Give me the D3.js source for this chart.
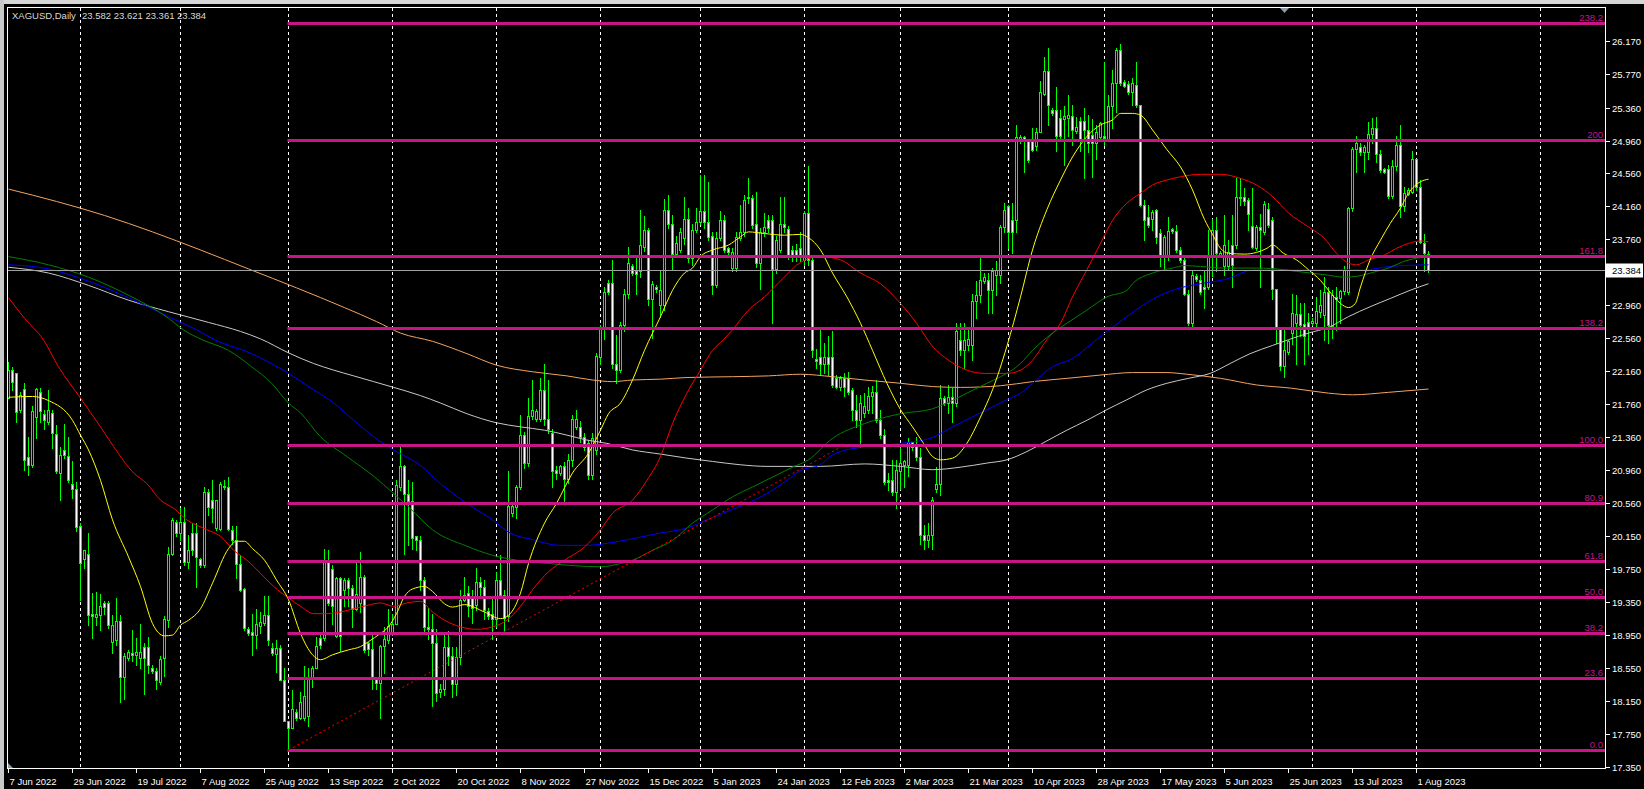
<!DOCTYPE html>
<html><head><meta charset="utf-8">
<script src="https://cdn.jsdelivr.net/npm/d3@7"></script>
<style>html,body{margin:0;padding:0;background:#000;overflow:hidden}</style>
</head><body>
<svg id="c" width="1644" height="789"></svg>
<script>
// ---------- DATA ----------
const opens=[
21.83,22.17,22.13,21.69,21.94,21.11,21.02,21.60,21.90,21.64,
21.54,21.65,21.39,20.92,21.20,21.13,20.79,20.72,20.27,19.87,
19.93,19.21,19.17,19.19,19.34,19.34,18.87,18.89,19.12,18.44,
18.67,18.73,18.71,18.67,18.80,18.80,18.55,18.51,18.38,18.67,
19.13,19.94,20.32,20.19,20.32,19.84,20.19,20.19,19.88,19.80,
20.69,20.59,20.25,20.24,20.76,20.75,20.23,20.11,19.81,19.51,
19.02,18.99,18.95,19.06,19.10,19.19,18.79,18.72,18.79,18.40,
17.91,17.82,18.02,17.94,17.94,17.97,18.44,18.55,18.92,18.92,
19.84,19.75,18.94,19.64,19.50,19.62,19.52,19.27,19.34,19.66,
18.85,18.78,18.42,18.37,18.82,18.89,18.97,19.09,20.75,21.01,
20.66,20.58,20.15,20.11,19.62,19.05,19.02,18.85,18.26,18.30,
18.80,18.70,18.35,18.68,19.38,19.46,19.42,19.32,19.60,19.54,
19.24,19.20,19.15,19.62,19.44,19.18,20.43,20.51,20.75,21.38,
21.04,21.61,21.58,21.58,21.93,21.58,21.41,20.96,20.92,21.00,
20.85,21.08,21.48,21.48,21.36,21.28,20.90,21.20,22.33,22.68,
23.23,23.23,22.25,22.17,22.72,23.10,23.43,23.37,23.37,23.67,
23.87,23.04,23.18,22.96,22.96,24.12,23.95,23.58,23.63,23.77,
24.01,23.53,23.87,23.97,24.10,23.97,23.80,23.20,23.78,24.00,
23.65,23.41,23.41,23.78,23.85,24.28,24.26,23.95,23.47,23.85,
24.00,24.00,23.40,23.63,23.95,23.89,23.63,23.63,23.65,23.51,
24.08,23.51,22.31,22.33,22.25,22.33,22.33,22.07,21.97,22.07,
22.07,21.93,21.69,21.56,21.65,21.69,21.85,21.91,21.56,21.38,
20.84,20.84,20.69,20.94,21.02,21.02,21.30,21.25,21.11,20.17,
20.11,20.17,20.73,20.79,21.83,21.77,21.84,21.77,22.54,22.42,
22.47,22.47,23.01,23.08,23.25,23.26,23.14,23.33,23.33,23.91,
24.16,23.99,23.99,24.95,25.00,24.95,24.95,24.89,25.07,25.53,
25.80,25.33,25.33,25.23,25.22,25.23,25.26,25.08,25.20,25.20,
25.09,25.03,24.93,25.00,25.02,24.98,25.38,25.66,26.06,25.67,
25.65,25.55,25.64,25.39,24.18,24.03,24.01,24.11,23.84,23.55,
23.55,23.88,23.86,23.63,23.51,23.10,22.74,23.31,23.27,23.18,
23.18,23.55,23.87,23.57,23.43,23.43,23.69,23.69,24.26,24.27,
24.24,23.92,23.66,23.91,23.85,24.13,23.99,23.15,22.69,22.22,
22.39,22.62,22.74,22.85,22.73,22.75,22.74,22.74,22.88,22.84,
23.12,22.71,23.06,23.05,23.13,23.12,24.14,24.86,24.88,24.82,
24.82,25.04,25.11,24.80,24.61,24.61,24.29,24.65,24.91,24.16,
24.31,24.34,24.73,24.40,23.71,23.582];
const highs=[
22.27,22.21,22.13,21.91,22.01,21.36,21.73,21.95,21.95,21.69,
21.93,21.69,21.50,21.24,21.52,21.36,21.06,20.81,20.31,19.98,
20.19,19.46,19.47,19.45,19.36,19.36,19.19,19.40,19.19,18.73,
18.77,19.01,18.91,19.09,18.85,18.93,18.59,18.55,18.69,19.18,
20.02,20.37,20.35,20.49,20.51,20.17,20.31,20.31,19.89,20.75,
20.73,20.83,20.59,20.81,20.83,20.87,20.27,20.27,19.92,19.52,
19.05,19.21,19.27,19.23,19.42,19.42,18.85,18.89,18.83,18.55,
17.91,18.28,18.05,18.26,18.57,18.55,18.57,18.93,18.99,20.00,
19.98,19.80,19.66,19.66,19.64,19.64,19.56,19.86,19.96,19.68,
18.87,18.97,18.44,18.83,19.05,19.27,19.21,20.83,21.24,21.02,
20.83,20.81,20.15,20.15,19.66,19.28,19.20,19.02,18.35,18.95,
19.00,18.80,18.80,19.50,19.66,19.55,19.50,19.76,19.65,19.62,
19.28,19.40,19.72,19.92,19.50,20.94,20.55,20.77,21.62,21.42,
21.83,22.05,21.70,22.07,22.24,22.05,21.45,21.00,21.02,21.05,
21.15,21.62,21.68,21.55,21.40,21.32,21.40,22.38,22.72,23.18,
23.27,23.51,22.60,22.75,23.15,23.67,23.46,23.53,24.12,24.04,
23.90,23.25,23.20,23.39,24.25,24.30,24.06,23.80,23.90,24.28,
24.14,23.95,24.14,24.54,24.54,24.46,23.85,23.85,24.10,24.05,
23.67,23.65,23.85,24.18,24.30,24.50,24.30,24.34,23.90,24.08,
24.05,24.05,23.80,24.28,24.28,23.92,23.68,23.70,23.85,24.10,
24.65,23.55,22.43,22.66,22.50,22.58,22.64,22.11,22.10,22.13,
22.15,21.95,21.87,21.87,21.89,21.97,21.98,22.05,21.69,21.46,
20.92,21.08,21.08,21.24,21.08,21.34,21.30,21.36,21.22,20.29,
20.31,20.63,20.99,21.99,21.85,21.99,21.95,22.74,22.74,22.74,
22.70,23.10,23.25,23.56,23.35,23.35,23.41,23.50,23.93,24.20,
24.18,24.20,25.15,25.03,25.02,24.97,25.11,25.11,25.68,25.97,
26.09,25.35,25.61,25.33,25.38,25.51,25.39,25.25,25.25,25.36,
25.27,25.22,25.15,25.19,25.91,25.51,25.82,26.08,26.13,25.70,
25.68,25.72,25.92,25.39,24.24,24.18,24.11,24.13,23.88,23.81,
24.03,23.90,23.93,23.67,23.57,23.14,23.37,23.34,23.33,23.37,
23.87,24.01,24.03,23.62,24.05,23.75,24.05,24.50,24.51,24.38,
24.26,24.38,23.93,24.07,24.22,24.20,24.03,23.16,22.70,22.66,
22.54,23.10,23.08,22.98,22.98,22.86,22.80,23.06,23.14,23.30,
23.18,23.14,23.18,23.14,23.43,24.15,24.88,25.01,24.93,24.91,
25.19,25.23,25.25,24.84,24.63,24.66,24.72,25.01,25.15,24.40,
24.38,24.83,24.74,24.48,23.83,23.621];
const lows=[
21.83,21.93,21.54,21.66,20.96,20.90,20.99,21.34,21.54,21.46,
21.52,21.22,20.92,20.59,21.10,20.81,20.61,20.21,19.38,19.76,
19.07,18.91,19.07,19.01,19.21,19.04,18.73,18.83,18.14,18.17,
18.65,18.63,18.59,18.55,18.23,18.49,18.49,18.30,18.36,18.45,
19.05,19.92,20.15,20.11,19.80,19.76,19.92,19.54,19.78,19.78,
20.41,20.33,20.23,20.23,20.73,20.23,20.06,19.64,19.48,19.01,
18.95,18.71,18.79,18.97,19.07,18.83,18.71,18.50,18.40,17.90,
17.553,17.82,17.92,17.93,17.92,17.84,18.32,18.55,18.79,18.89,
19.32,19.09,18.93,18.76,19.30,19.30,19.05,19.25,19.23,18.75,
18.71,18.30,18.30,17.94,18.49,18.85,18.95,19.09,20.71,19.94,
20.04,19.99,19.98,19.50,18.98,18.90,18.09,18.15,18.20,18.22,
18.58,18.20,18.22,18.60,19.36,19.18,19.10,19.25,19.40,19.15,
19.15,18.90,19.05,19.40,18.98,19.12,20.40,20.37,20.72,20.98,
21.00,21.57,21.55,21.55,21.50,21.40,20.75,20.85,20.90,20.57,
20.80,21.00,21.45,21.30,21.20,20.85,20.85,21.15,22.25,22.55,
23.10,22.20,22.01,22.15,22.65,23.05,23.33,23.10,23.30,23.62,
22.96,22.56,23.12,22.82,22.90,23.90,23.39,23.55,23.60,23.70,
23.48,23.45,23.85,23.95,23.90,23.75,23.10,23.18,23.75,23.60,
23.58,23.38,23.38,23.75,23.80,24.20,23.90,23.42,23.16,23.80,
23.85,22.74,23.35,23.60,23.85,23.52,23.50,23.50,23.50,23.45,
23.45,22.33,22.20,22.11,22.13,22.11,21.97,21.95,21.93,21.85,
21.88,21.56,21.48,21.24,21.60,21.65,21.65,21.54,21.34,20.79,
20.71,20.65,20.49,20.73,20.75,20.88,21.20,21.08,20.06,20.00,
20.02,19.99,20.69,20.65,21.75,21.65,21.54,21.73,22.35,22.19,
22.41,22.29,22.80,23.00,23.23,22.86,22.86,23.08,23.23,23.85,
23.65,23.59,23.85,24.93,24.58,24.70,24.83,24.85,25.07,25.51,
25.15,25.27,24.83,24.97,24.66,25.01,24.91,25.05,24.83,24.50,
24.82,24.52,24.74,24.99,24.91,24.97,25.11,25.31,25.64,25.61,
25.53,25.39,25.37,24.16,23.75,23.91,23.87,23.71,23.43,23.39,
23.51,23.84,23.61,23.49,23.08,22.72,22.70,23.25,23.10,22.92,
23.15,23.31,23.37,23.55,23.33,23.40,23.18,23.65,24.18,24.18,
23.87,23.65,23.63,23.18,23.83,23.91,23.04,22.50,22.17,22.09,
22.37,22.49,22.25,22.58,22.25,22.37,22.72,22.68,22.82,22.54,
22.50,22.56,22.66,22.74,23.10,23.10,24.10,24.58,24.78,24.58,
24.74,24.93,24.70,24.58,24.56,24.26,24.26,24.60,24.03,24.10,
24.30,24.32,24.36,23.71,23.37,23.361];
const closes=[
22.17,22.03,21.66,21.87,21.08,21.02,21.67,21.94,21.67,21.56,
21.68,21.40,20.94,21.14,21.14,20.83,20.73,20.26,19.83,19.98,
19.19,19.18,19.21,19.30,19.29,19.07,19.07,19.12,18.44,18.70,
18.74,18.71,18.75,18.75,18.67,18.59,18.51,18.40,18.66,19.14,
19.94,20.35,20.19,20.32,19.84,19.98,19.98,19.90,19.80,20.69,
20.51,20.50,20.59,20.79,20.75,20.24,20.11,19.81,19.50,19.03,
18.97,18.95,19.09,19.11,19.19,18.89,18.73,18.79,18.40,17.91,
17.82,18.05,17.94,18.14,18.21,18.44,18.55,18.82,18.83,19.84,
19.34,19.30,19.64,18.94,19.62,19.52,19.27,19.45,19.66,18.77,
18.78,18.42,18.37,18.82,18.90,19.06,19.09,20.77,21.01,20.66,
20.58,20.13,20.11,19.62,19.05,19.02,18.85,18.25,18.30,18.80,
18.70,18.35,18.68,19.38,19.44,19.30,19.28,19.60,19.54,19.26,
19.18,19.15,19.62,19.44,19.16,20.52,20.52,20.75,21.38,21.04,
21.61,21.69,21.67,21.93,21.58,21.46,20.94,20.92,21.00,20.85,
21.08,21.58,21.57,21.36,21.24,20.90,21.34,22.34,22.69,23.12,
23.12,22.25,22.17,22.72,23.10,23.47,23.35,23.34,23.69,23.87,
23.04,23.22,23.15,23.14,24.12,23.95,23.58,23.72,23.85,24.01,
23.53,23.87,23.97,24.10,23.97,23.79,23.20,23.78,24.00,23.63,
23.61,23.61,23.79,23.85,24.24,24.26,23.93,23.47,23.85,23.91,
23.90,23.40,23.75,23.95,23.91,23.57,23.57,23.57,23.57,24.08,
23.51,22.41,22.28,22.25,22.33,22.25,21.99,21.97,22.07,21.97,
21.91,21.69,21.56,21.77,21.73,21.86,21.91,21.56,21.38,20.81,
20.81,20.69,20.96,21.04,21.06,21.30,21.24,21.11,20.17,20.11,
20.17,20.59,20.79,21.83,21.77,21.84,21.77,22.64,22.42,22.54,
22.55,23.01,23.08,23.26,23.30,23.14,23.38,23.39,23.91,24.12,
23.85,23.85,25.00,25.00,24.96,24.72,24.84,25.07,25.55,25.80,
25.39,25.29,25.01,25.01,25.26,25.27,25.09,25.13,24.97,25.09,
24.93,24.93,25.07,25.17,24.99,25.38,25.66,26.06,25.66,25.62,
25.55,25.66,25.39,24.18,23.99,23.93,24.09,23.79,23.55,23.79,
23.86,23.86,23.63,23.51,23.10,22.74,23.32,23.28,23.12,23.15,
23.55,23.87,23.59,23.59,23.69,23.60,23.45,24.27,24.27,24.22,
24.07,23.67,23.91,23.87,24.19,23.93,23.15,22.69,22.22,22.41,
22.52,22.86,22.85,22.72,22.58,22.69,22.77,22.89,22.96,23.12,
22.72,23.08,23.04,23.13,23.39,24.14,24.86,24.93,24.82,24.88,
25.04,25.11,24.80,24.60,24.58,24.29,24.65,24.91,24.16,24.32,
24.36,24.73,24.40,23.73,23.59,23.384];

const priceTickLabels=["26.170","25.770","25.360","24.960","24.560","24.160","23.760","22.960","22.560","22.160","21.760","21.360","20.960","20.560","20.150","19.750","19.350","18.950","18.550","18.150","17.750","17.350"];
const timeTickBars=[0,16,32,48,64,80,96,112,128,144,160,176,192,208,224,240,256,272,288,304,320,336,352];
const timeTickLabels=["7 Jun 2022","29 Jun 2022","19 Jul 2022","7 Aug 2022","25 Aug 2022","13 Sep 2022","2 Oct 2022","20 Oct 2022","8 Nov 2022","27 Nov 2022","15 Dec 2022","5 Jan 2023","24 Jan 2023","12 Feb 2023","2 Mar 2023","21 Mar 2023","10 Apr 2023","28 Apr 2023","17 May 2023","5 Jun 2023","25 Jun 2023","13 Jul 2023","1 Aug 2023"];
const monthGridBars=[18,43,70,96,122,148,173,199,223,250,274,301,326,352,383];
const fibLabels=["0.0","23.6","38.2","50.0","61.8","80.9","100.0","138.2","161.8","200","238.2"];
const fibPrices=[17.553,18.428,18.969,19.407,19.844,20.552,21.260,22.676,23.551,24.967,26.383];
const fibStartBar=70;
const trendBars=[70,209];
const trendPrices=[17.553,21.26];
const lastPrice=23.384;
const symbolText="XAGUSD,Daily";
const ohlcText="23.582 23.621 23.361 23.384";

const maYellow=[[0,21.84],[6,21.85],[10,21.80],[16,21.56],[18,21.38],[20,21.20],[23,20.83],[26,20.35],[30,19.90],[33,19.54],[36,19.09],[39,18.94],[41,18.95],[43,19.07],[45,19.13],[48,19.27],[51,19.58],[55,20.00],[57,20.09],[59,20.09],[61,20.0],[64,19.86],[67,19.62],[70,19.38],[73,18.97],[76,18.71],[78,18.65],[81,18.71],[85,18.77],[88,18.81],[90,18.87],[93,18.97],[95,19.05],[97,19.21],[99,19.42],[101,19.51],[104,19.54],[106,19.48],[109,19.33],[111,19.29],[114,19.32],[119,19.23],[123,19.15],[125,19.19],[128,19.46],[130,19.82],[134,20.31],[137,20.55],[141,20.92],[145,21.16],[148,21.44],[150,21.64],[153,21.77],[156,22.05],[159,22.41],[163,22.82],[166,23.14],[169,23.35],[171,23.41],[173,23.55],[176,23.63],[180,23.69],[183,23.79],[185,23.85],[189,23.83],[194,23.81],[198,23.82],[200,23.78],[203,23.63],[206,23.35],[209.6,23.06],[213,22.74],[216,22.41],[219.6,22.01],[223,21.69],[226,21.48],[228.75,21.28],[231,21.12],[233,21.08],[236,21.10],[239.6,21.28],[243,21.60],[246,21.93],[249.6,22.46],[253,23.06],[256,23.63],[259.6,24.12],[263,24.48],[266,24.76],[269.6,25.01],[273,25.15],[276,25.21],[278,25.29],[281,25.29],[283,25.27],[286,25.09],[289.6,24.85],[293,24.64],[296,24.36],[299,24.0],[301,23.82],[303,23.65],[305,23.59],[309,23.58],[312,23.60],[314.6,23.65],[316,23.69],[318.75,23.59],[322,23.51],[325,23.39],[328,23.26],[330,23.14],[333,22.98],[335,22.93],[336.7,22.98],[338,23.18],[340.4,23.51],[343,23.75],[345.4,23.95],[348,24.14],[350,24.32],[353,24.46],[355,24.49]];
const maRed=[[0,23.05],[4,22.80],[8.7,22.54],[12.5,22.21],[18,21.83],[23,21.48],[26.3,21.24],[31.3,20.92],[34.6,20.79],[38,20.59],[41.3,20.49],[44.6,20.35],[49.6,20.23],[53,20.15],[56.3,19.98],[59.6,19.86],[63,19.70],[66.3,19.54],[70,19.40],[73,19.30],[76.3,19.21],[79.6,19.21],[83,19.23],[86.3,19.27],[89.6,19.31],[93,19.34],[96.25,19.30],[99.6,19.34],[103,19.36],[106,19.23],[109,19.13],[113,19.05],[117,19.02],[121,19.05],[124.6,19.13],[128,19.30],[131,19.50],[135,19.72],[139,19.86],[144,20.02],[148,20.23],[151,20.43],[156,20.59],[159.6,20.83],[163,21.12],[166,21.52],[169.6,21.89],[173,22.17],[176,22.41],[178.75,22.54],[181,22.66],[185,22.90],[189,23.06],[193.75,23.29],[198,23.48],[203,23.55],[208,23.51],[213,23.35],[218,23.22],[223,22.98],[227,22.74],[231,22.46],[235,22.29],[239.6,22.17],[244,22.13],[249.6,22.13],[253,22.17],[256,22.29],[259.6,22.54],[263,22.74],[266,23.06],[269.6,23.39],[273,23.71],[276,23.99],[279.6,24.20],[283,24.32],[286,24.42],[289.6,24.48],[293,24.52],[298,24.55],[303,24.55],[308,24.50],[312,24.42],[316,24.28],[320,24.08],[325,23.91],[329,23.77],[332,23.59],[335,23.47],[337,23.45],[340,23.51],[344,23.57],[347,23.65],[350,23.71],[353,23.74],[355,23.73]];
const maGreen=[[0,23.55],[10,23.45],[20,23.30],[30,23.08],[40,22.80],[43.7,22.66],[48.4,22.54],[55,22.41],[60.8,22.21],[65.8,22.01],[70,21.77],[73,21.65],[78,21.36],[84.6,21.12],[91.3,20.88],[96.3,20.67],[100.4,20.49],[106,20.23],[114.6,20.03],[121,19.92],[124.6,19.88],[135,19.82],[148,19.78],[153,19.82],[156,19.86],[161,19.98],[166,20.10],[171,20.31],[176,20.47],[181,20.63],[186,20.75],[191,20.87],[196,20.99],[200,21.08],[206,21.34],[214,21.52],[223,21.64],[231,21.70],[234.6,21.77],[239.6,21.89],[244.6,22.01],[248,22.09],[253,22.25],[256,22.41],[261,22.62],[264.6,22.74],[269.6,22.90],[274.6,23.06],[279.6,23.14],[281,23.22],[286,23.35],[291,23.41],[294,23.44],[298,23.43],[304,23.41],[312,23.41],[319,23.39],[322,23.37],[329,23.33],[334,23.30],[337,23.31],[342,23.37],[345,23.41],[348.75,23.49],[352,23.53],[355,23.55]];
const maBlue=[[0,23.45],[10,23.40],[20,23.25],[30,23.05],[40,22.82],[47,22.66],[51.5,22.54],[60.8,22.37],[70,22.13],[76.3,21.93],[81.3,21.77],[86.3,21.56],[91.3,21.36],[96.3,21.20],[103,21.01],[108,20.79],[114.6,20.55],[121,20.35],[125.4,20.19],[131,20.11],[137.9,20.04],[144.6,20.04],[149,20.06],[156,20.12],[162.9,20.19],[169.6,20.25],[174.6,20.35],[179.6,20.45],[184.6,20.55],[189.6,20.67],[194.6,20.83],[198,20.95],[203,21.02],[206,21.14],[214,21.24],[223,21.28],[230.4,21.34],[236,21.48],[243,21.65],[249.6,21.81],[253,21.89],[256,22.01],[261,22.21],[266,22.31],[271,22.50],[274.6,22.64],[279.6,22.82],[283,22.94],[288,23.08],[293,23.17],[298,23.22],[304,23.27],[311.6,23.39],[320.8,23.39],[329,23.39],[339,23.39],[345.4,23.43],[355,23.45]];
const maWhite=[[0,23.42],[10,23.35],[20,23.20],[30,23.02],[40,22.88],[50,22.75],[58,22.64],[63,22.55],[70,22.38],[76.3,22.25],[81.3,22.17],[86.3,22.10],[91.3,22.03],[96.3,21.96],[103,21.86],[108,21.77],[114.6,21.64],[122,21.53],[128,21.48],[134,21.44],[139.6,21.38],[144.6,21.32],[149.6,21.28],[156,21.20],[162.9,21.15],[169.6,21.10],[176,21.06],[182.9,21.02],[189.6,21.00],[196,21.00],[203,21.00],[214,21.03],[223,21.00],[231,20.96],[237.9,20.99],[244.6,21.04],[249.6,21.08],[254.6,21.18],[259.6,21.31],[264.6,21.44],[269.6,21.56],[274.6,21.69],[279.6,21.81],[284.6,21.93],[289.6,22.01],[295,22.07],[300.4,22.13],[305.4,22.25],[310.4,22.37],[316,22.47],[320,22.54],[325,22.62],[330,22.69],[335,22.82],[340.4,22.94],[345.4,23.04],[350.4,23.14],[355,23.22]];
const maOrange=[[0,24.37],[12,24.22],[24,24.05],[36,23.85],[48,23.63],[60,23.40],[72,23.17],[84,22.93],[92,22.76],[98,22.62],[106,22.52],[114.6,22.37],[122,22.23],[131,22.15],[139.6,22.10],[146,22.05],[151,22.03],[156,22.05],[163,22.06],[169.6,22.08],[181,22.09],[190,22.10],[198,22.12],[206,22.09],[214,22.05],[223,22.01],[231,21.97],[238,21.96],[248,21.98],[256,22.03],[264.6,22.07],[273,22.11],[281,22.14],[289.6,22.14],[294.6,22.12],[303,22.07],[312,21.99],[320.8,21.95],[330,21.89],[336,21.87],[345,21.90],[355,21.94]];

// ---------- DRAWING ----------
const svg=d3.select("#c");
const W=1644,H=789;
const P={left:7,right:1605,top:7,bottom:768};
const x=d3.scaleLinear().domain([0,1]).range([8.5,12.5]);
const y=d3.scaleLinear().domain([17.35,26.17]).range([766.7,41]);
const FONT="'Liberation Sans', Arial, sans-serif";
const ry=v=>Math.round(y(v));

svg.append("rect").attr("width",W).attr("height",H).attr("fill","#000");
svg.append("rect").attr("x",0).attr("y",0).attr("width",W).attr("height",4).attr("fill","#d6d6d6");
svg.append("rect").attr("x",0).attr("y",0).attr("width",4).attr("height",H).attr("fill","#c8c8c8");

const defs=svg.append("defs");
defs.append("clipPath").attr("id","plot").append("rect")
  .attr("x",P.left+1).attr("y",P.top+1).attr("width",P.right-P.left-1).attr("height",P.bottom-P.top-1);
const g=svg.append("g").attr("clip-path","url(#plot)");

// month grid lines
g.selectAll("line.grid").data(monthGridBars).join("line").attr("class","grid")
  .attr("x1",d=>x(d)).attr("x2",d=>x(d)).attr("y1",P.top+1).attr("y2",P.bottom)
  .attr("stroke","#fff").attr("stroke-width",1).attr("stroke-dasharray","3,3");

// candles
const idx=d3.range(closes.length);
g.selectAll("line.wick").data(idx).join("line").attr("class","wick")
  .attr("x1",i=>x(i)).attr("x2",i=>x(i))
  .attr("y1",i=>ry(Math.max(highs[i],opens[i],closes[i])))
  .attr("y2",i=>ry(Math.min(lows[i],opens[i],closes[i]))+1)
  .attr("stroke","#00ff00").attr("stroke-width",1);
g.selectAll("rect.body").data(idx).join("rect").attr("class","body")
  .attr("x",i=>x(i)-1).attr("width",2)
  .attr("y",i=>Math.min(ry(opens[i]),ry(closes[i]))+0.5)
  .attr("height",i=>Math.abs(ry(opens[i])-ry(closes[i])))
  .attr("fill",i=>closes[i]>=opens[i]?"#000":"#fff")
  .attr("stroke","#00ff00").attr("stroke-width",1);

// moving averages
const line=d3.line().x(d=>x(d[0])).y(d=>y(d[1])).curve(d3.curveMonotoneX);
[[maOrange,"#f4a460"],[maWhite,"#c8c8c8"],[maBlue,"#0000ff"],[maGreen,"#008000"],[maRed,"#ff0000"],[maYellow,"#ffff00"]]
 .forEach(([data,col])=>{
   g.append("path").attr("d",line(data)).attr("fill","none").attr("stroke",col).attr("stroke-width",1);
 });

// current price line
const yLast=ry(lastPrice)+0.5;
g.append("line").attr("x1",P.left).attr("x2",P.right).attr("y1",yLast).attr("y2",yLast)
  .attr("stroke","#a0a0a0").attr("stroke-width",1);

// fib levels
fibPrices.forEach((p,k)=>{
  const yy=ry(p)+0.5;
  g.append("line").attr("x1",x(fibStartBar)-1).attr("x2",P.right).attr("y1",yy).attr("y2",yy)
    .attr("stroke","#c71585").attr("stroke-width",3);
  g.append("text").attr("x",P.right-2).attr("y",yy-2.5).attr("text-anchor","end")
    .attr("font-family",FONT).attr("font-size","9.5px").attr("fill","#c0168a").text(fibLabels[k]);
});
// fib trend (dashed)
g.append("line").attr("x1",x(trendBars[0])).attr("y1",y(trendPrices[0]))
  .attr("x2",x(trendBars[1])).attr("y2",y(trendPrices[1]))
  .attr("stroke","#ff0000").attr("stroke-width",1).attr("stroke-dasharray","2,3");

// frame
svg.append("rect").attr("x",P.left+0.5).attr("y",P.top+0.5).attr("width",P.right-P.left).attr("height",P.bottom-P.top)
  .attr("fill","none").attr("stroke","#fff").attr("stroke-width",1);

// chart shift marker
svg.append("polygon").attr("points",`${1280},${P.top+1} ${1289},${P.top+1} ${1284.5},${P.top+6}`).attr("fill","#8c9aa8");
svg.append("polygon").attr("points",`${P.left+1},${P.bottom-5} ${P.left+1},${P.bottom} ${P.left+6},${P.bottom}`).attr("fill","#8c9aa8");

// price axis
priceTickLabels.forEach(t=>{
  const yy=ry(+t)+0.5;
  svg.append("line").attr("x1",P.right+1).attr("x2",P.right+5).attr("y1",yy).attr("y2",yy).attr("stroke","#fff");
  svg.append("text").attr("x",P.right+7).attr("y",yy+3.5).attr("font-family",FONT).attr("font-size","9.5px")
    .attr("fill","#fff").text(t);
});
// last price box
svg.append("rect").attr("x",P.right+1).attr("y",yLast-7).attr("width",W-P.right-2).attr("height",14).attr("fill","#fff");
svg.append("text").attr("x",P.right+7).attr("y",yLast+3.5).attr("font-family",FONT).attr("font-size","9.5px")
  .attr("fill","#000").text(lastPrice.toFixed(3));

// time axis
timeTickBars.forEach((b,k)=>{
  const xx=x(b);
  svg.append("line").attr("x1",xx).attr("x2",xx).attr("y1",P.bottom+1).attr("y2",P.bottom+5).attr("stroke","#fff");
  svg.append("text").attr("x",xx+1).attr("y",785).attr("font-family",FONT).attr("font-size","9.5px")
    .attr("fill","#fff").text(timeTickLabels[k]);
});

// title
svg.append("text").attr("x",12).attr("y",19).attr("font-family",FONT).attr("font-size","9.5px").attr("fill","#d8d8d8").text(symbolText);
svg.append("text").attr("x",82).attr("y",19).attr("font-family",FONT).attr("font-size","9.5px").attr("fill","#d8d8d8").text(ohlcText);
</script>
</body></html>
